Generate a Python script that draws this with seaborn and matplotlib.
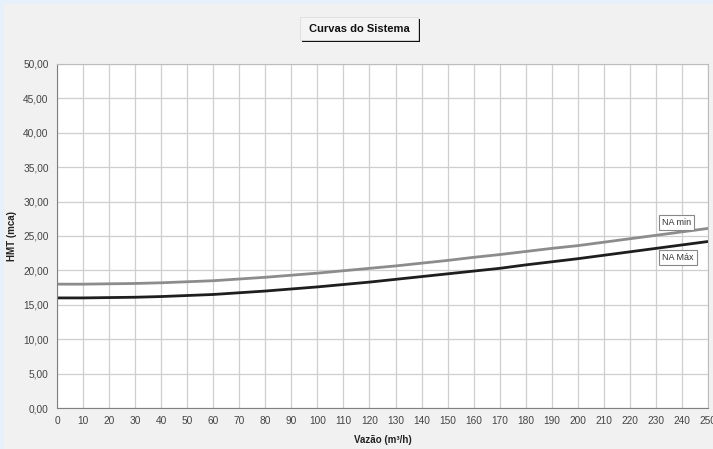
import pandas as pd
import numpy as np
import seaborn as sns
import matplotlib.pyplot as plt
from matplotlib.patches import Rectangle
from matplotlib.ticker import MultipleLocator, FuncFormatter

# values
vazao = [0, 10, 20, 30, 40, 50, 60, 70, 80, 90, 100, 110, 120, 130, 140, 150,
         160, 170, 180, 190, 200, 210, 220, 230, 240, 250]
na_min = [18.0, 18.0, 18.05, 18.1, 18.2, 18.35, 18.5, 18.75, 19.0, 19.3, 19.6, 19.95, 20.3,
          20.65, 21.05, 21.45, 21.9, 22.3, 22.75, 23.2, 23.6, 24.1, 24.6, 25.1, 25.6, 26.1]
na_max = [16.0, 16.0, 16.05, 16.1, 16.2, 16.35, 16.5, 16.75, 17.0, 17.3, 17.6, 17.95, 18.3,
          18.7, 19.1, 19.5, 19.9, 20.3, 20.8, 21.25, 21.7, 22.2, 22.7, 23.2, 23.7, 24.2]
series_names = ['NA min', 'NA Máx']

df = pd.DataFrame({
    'Vazao': vazao * 2,
    'HMT': na_min + na_max,
    'Curva': [series_names[0]] * len(vazao) + [series_names[1]] * len(vazao),
})

sns.set_style('whitegrid')
plt.rcParams['font.family'] = ['Liberation Sans', 'DejaVu Sans']

W, H = 713, 449
fig = plt.figure(figsize=(W / 100, H / 100), dpi=100, facecolor='#e6f0fa')
fig.patches.append(Rectangle((4 / W, 0), 1, 1 - 4 / H, transform=fig.transFigure,
                             facecolor='#f1f1f1', edgecolor='none', zorder=-1))
ax = fig.add_axes([57 / W, 41 / H, 651 / W, 344 / H])
ax.set_facecolor('white')

sns.lineplot(data=df, x='Vazao', y='HMT', hue='Curva', palette=['#8c8c8c', '#1e1e1e'],
             linewidth=2, legend=False, ax=ax)

ax.set_xlim(0, 250)
ax.set_ylim(0, 50)
ax.xaxis.set_major_locator(MultipleLocator(10))
ax.yaxis.set_major_locator(MultipleLocator(5))
ax.yaxis.set_major_formatter(FuncFormatter(lambda v, p: f'{v:.2f}'.replace('.', ',')))
ax.grid(True, color='#cfcfcf', linewidth=0.9)
ax.tick_params(labelsize=7.3, colors='#444444', length=0, pad=6)
for s in ax.spines.values():
    s.set_color('#bdbdbd')
ax.spines['left'].set_color('#808080')
ax.spines['bottom'].set_color('#808080')

ax.set_xlabel('Vazão (m³/h)', fontsize=7, fontweight='bold', color='#222222', labelpad=6)
ax.set_ylabel('HMT (mca)', fontsize=7, fontweight='bold', color='#222222')
ax.yaxis.set_label_coords(-40 / 651, 0.5)

box = dict(boxstyle='square,pad=0.35', facecolor='white', edgecolor='#888888', linewidth=0.8)
ax.text(238, 27.0, 'NA min', fontsize=6.5, ha='center', va='center', color='#333333', bbox=box)
ax.text(238.5, 21.9, 'NA Máx', fontsize=6.5, ha='center', va='center', color='#333333', bbox=box)

# title box with a dropped shadow
fig.patches.append(Rectangle((302 / W, 1 - 42 / H), 118 / W, 23 / H, transform=fig.transFigure,
                             facecolor='#111111', edgecolor='none'))
fig.patches.append(Rectangle((300 / W, 1 - 40 / H), 118 / W, 23 / H, transform=fig.transFigure,
                             facecolor='#f4f4f4', edgecolor='#dddddd', linewidth=0.6))
fig.text(359 / W, 1 - 28.5 / H, 'Curvas do Sistema', fontsize=8, fontweight='bold',
         ha='center', va='center', color='#111111')

fig.savefig('out.png', dpi=100, facecolor=fig.get_facecolor())
